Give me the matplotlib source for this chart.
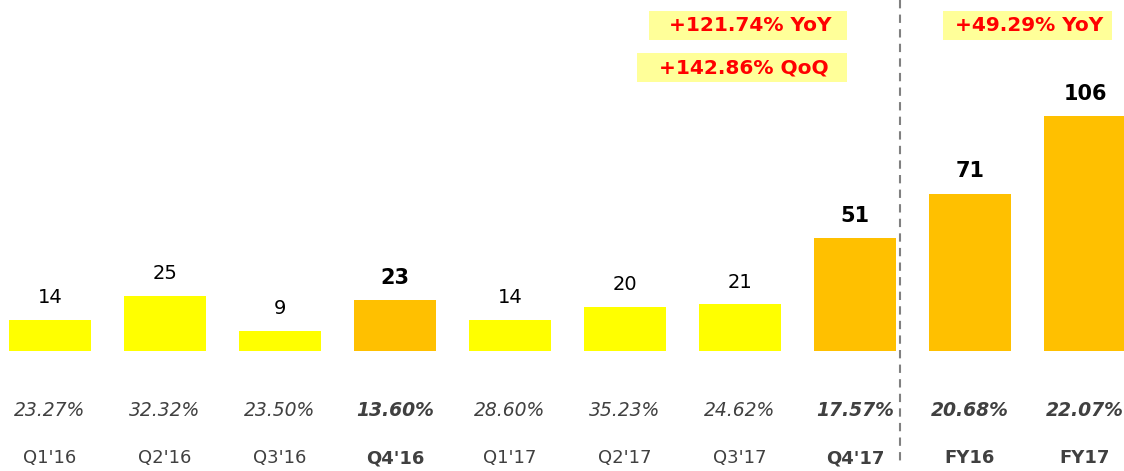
import matplotlib
matplotlib.use('Agg')
import matplotlib.pyplot as plt
from matplotlib.patches import Rectangle

# data
categories = ["Q1'16", "Q2'16", "Q3'16", "Q4'16", "Q1'17", "Q2'17", "Q3'17", "Q4'17", "FY16", "FY17"]
values = [14, 25, 9, 23, 14, 20, 21, 51, 71, 106]
margins = ["23.27%", "32.32%", "23.50%", "13.60%", "28.60%", "35.23%", "24.62%", "17.57%", "20.68%", "22.07%"]
highlight = [False, False, False, True, False, False, False, True, True, True]
callouts = [("+121.74% YoY", 649, 11, 198, 29),
            ("+142.86% QoQ", 637, 53, 210, 29),
            ("+49.29% YoY", 943, 11, 169, 29)]

W, H = 1124, 471
PX_PER_UNIT = 2.217
BASE = 120  # baseline, px from bottom
STEP = 115  # px between bar centres
X0 = 50

fig = plt.figure(figsize=(W / 100, H / 100), dpi=100)
ax = fig.add_axes([0, 0, 1, 1])
ax.set_xlim(-X0 / STEP, (W - X0) / STEP)
ax.set_ylim(-BASE / PX_PER_UNIT, (H - BASE) / PX_PER_UNIT)
ax.axis('off')

x = list(range(len(categories)))
colors = ['#FFC000' if h else '#FFFF00' for h in highlight]
ax.bar(x, values, width=0.72, color=colors, zorder=2)

def py(px_from_top):
    # pixel row -> data y
    return (H - px_from_top - BASE) / PX_PER_UNIT

for i, (v, m, c, h) in enumerate(zip(values, margins, categories, highlight)):
    w = 'bold' if h else 'normal'
    ax.text(i, v + 10, str(v), ha='center', va='center',
            fontsize=15 if h else 14, fontweight=w, color='black')
    ax.text(i, py(410), m, ha='center', va='center', fontsize=13.5,
            style='italic', fontweight=w, color='#404040')
    ax.text(i, py(458), c, ha='center', va='center', fontsize=13,
            fontweight=w, color='#404040')

# dashed separator between quarters and full years
ax.plot([(900 - X0) / STEP] * 2, [py(0), py(466)], color='#808080',
        linestyle=(0, (4, 3)), linewidth=1.5, zorder=1)

# callout boxes
for label, bx, by, bw, bh in callouts:
    fig.patches.append(Rectangle((bx / W, 1 - (by + bh) / H), bw / W, bh / H,
                                 transform=fig.transFigure, facecolor='#FFFF99',
                                 edgecolor='none', zorder=0))
    fig.text((bx + bw / 2 + 2) / W, 1 - (by + bh / 2) / H, label, ha='center',
             va='center', fontsize=14.5, fontweight='bold', color='#FF0000')

fig.savefig('out.png', dpi=100)
